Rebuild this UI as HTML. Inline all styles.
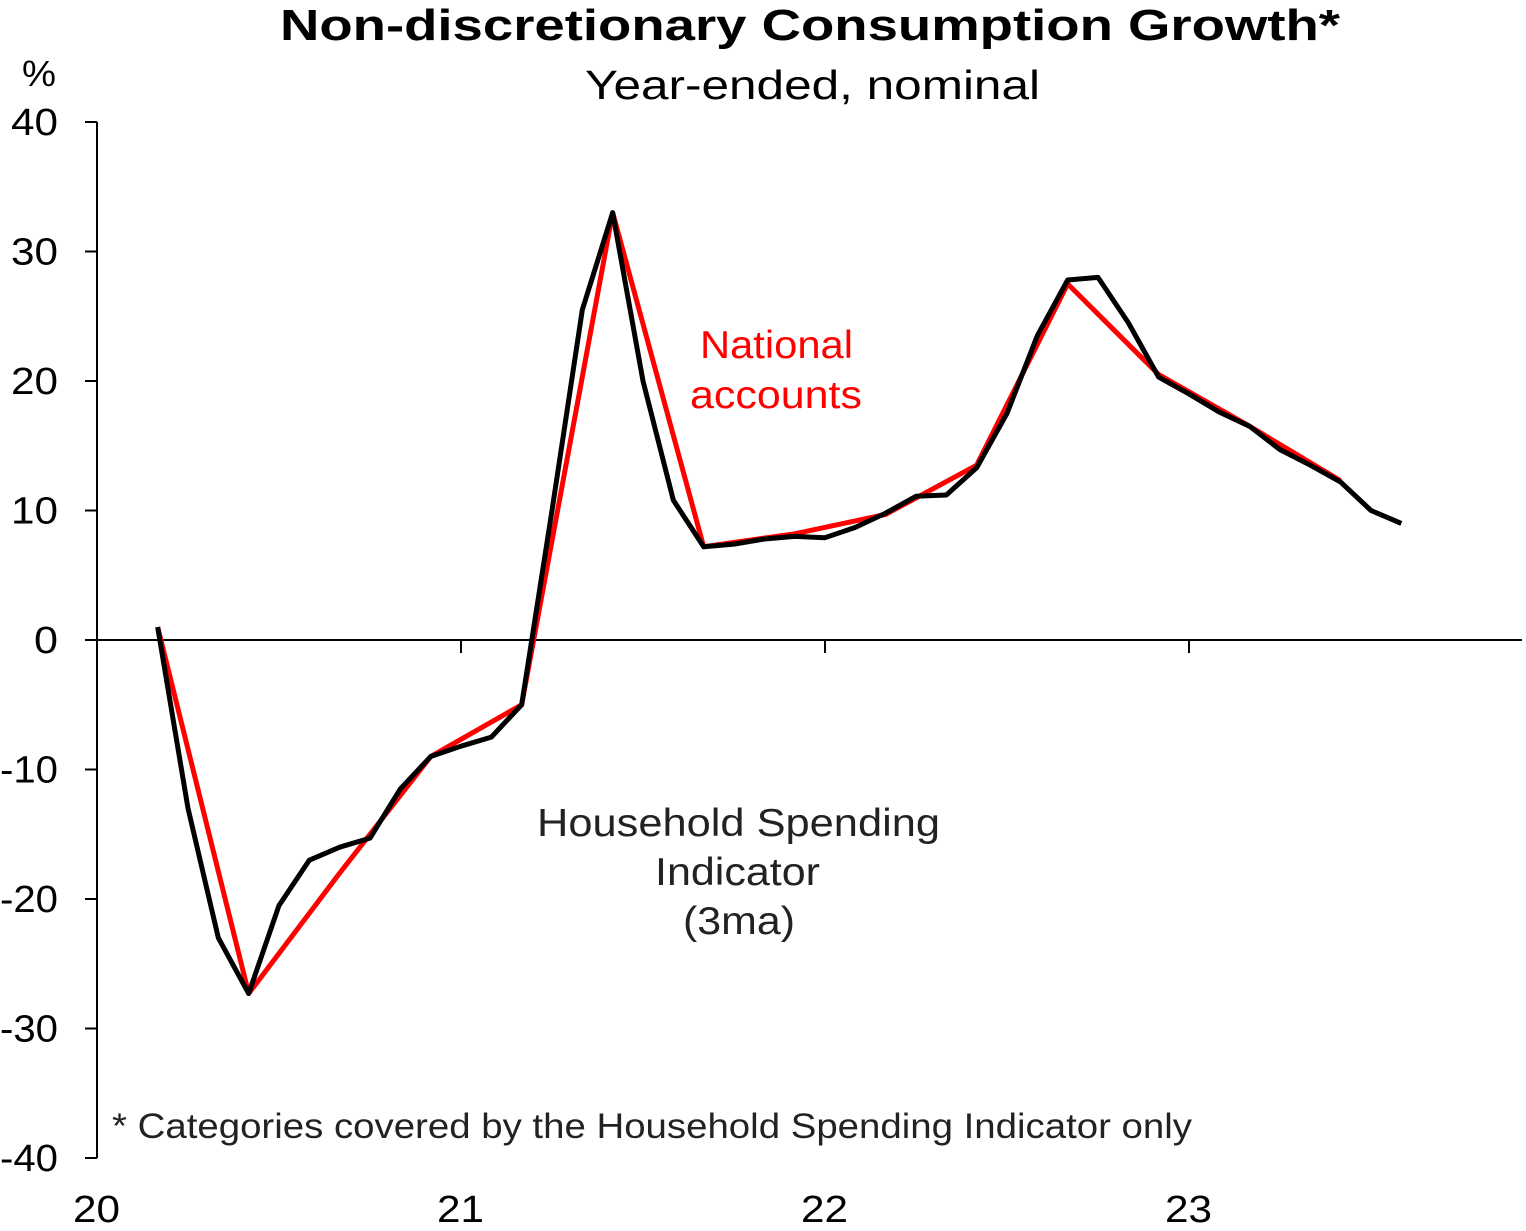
<!DOCTYPE html>
<html><head><meta charset="utf-8"><style>
body{margin:0;background:#fff;}
svg{display:block;font-family:"Liberation Sans",Arial,sans-serif;}
</style></head><body>
<svg width="1526" height="1231" viewBox="0 0 1526 1231">
<text x="280" y="40" font-size="44" font-weight="bold" textLength="1060" lengthAdjust="spacingAndGlyphs">Non-discretionary Consumption Growth*</text>
<text x="585" y="99" font-size="41" textLength="455" lengthAdjust="spacingAndGlyphs">Year-ended, nominal</text>
<text x="22" y="86" font-size="36" textLength="34" lengthAdjust="spacingAndGlyphs">%</text>
<g id="axes"></g>
<g id="series"></g>
<text x="700" y="358" font-size="39" fill="#ff0000" textLength="153" lengthAdjust="spacingAndGlyphs">National</text>
<text x="690" y="408" font-size="39" fill="#ff0000" textLength="172" lengthAdjust="spacingAndGlyphs">accounts</text>
<text x="537" y="836" font-size="39" fill="#222" textLength="403" lengthAdjust="spacingAndGlyphs">Household  Spending</text>
<text x="655" y="885" font-size="39" fill="#222" textLength="165" lengthAdjust="spacingAndGlyphs">Indicator</text>
<text x="683" y="934" font-size="39" fill="#222" textLength="112" lengthAdjust="spacingAndGlyphs">(3ma)</text>
<text x="112" y="1138" font-size="35" fill="#222" textLength="1080" lengthAdjust="spacingAndGlyphs">* Categories covered by the Household Spending Indicator only</text>
</svg>
<script>
const yTicks=[40,30,20,10,0,-10,-20,-30,-40];
const xYears=["20","21","22","23"];
const redMonths=[2,5,8,11,14,17,20,23,26,29,32,35,38,41];
const redValues=[1,-27.3,-18,-9,-5,33,7.2,8.2,9.7,13.5,27.5,20.5,16.5,12.3];
const blackValues=[1,-13,-23,-27.3,-20.5,-17,-16,-15.3,-11.5,-9,-8.2,-7.5,-5,10,25.5,33,20,10.8,7.2,7.4,7.8,8,7.9,8.7,9.8,11.1,11.2,13.3,17.5,23.5,27.8,28,24.5,20.3,19,17.6,16.5,14.7,13.5,12.2,10,9];
const blackStartMonth=2;
const NS="http://www.w3.org/2000/svg";
const X=m=>97+m*364/12;
const Y=v=>640-v*12.95;
const ax=document.getElementById('axes');
function mk(tag,attrs,parent){const e=document.createElementNS(NS,tag);for(const k in attrs)e.setAttribute(k,attrs[k]);parent.appendChild(e);return e;}
let l=mk('line',{x1:97,y1:Y(40),x2:97,y2:Y(-40),stroke:'#000','stroke-width':2},ax);


l=mk('line',{x1:97,y1:Y(0),x2:1522,y2:Y(0),stroke:'#000','stroke-width':2},ax);


yTicks.forEach(v=>{
 const t=mk('line',{x1:85,y1:Y(v),x2:97,y2:Y(v),stroke:'#000','stroke-width':2},ax);
 
 
 const s=String(v);
 const w=v<0?58:(s.length===1?24:47);
 const tx=mk('text',{x:58-w,y:Y(v)+13,'font-size':38,textLength:w,lengthAdjust:'spacingAndGlyphs'},ax);
 tx.textContent=s;
 
 
});
xYears.forEach((s,i)=>{
 const x=X(i*12);
 if(i>0){const t=mk('line',{x1:x,y1:Y(0),x2:x,y2:Y(0)+13,stroke:'#000','stroke-width':2},ax);
 
 }
 const tx=mk('text',{x:x-24,y:1222,'font-size':38,textLength:47,lengthAdjust:'spacingAndGlyphs'},ax);
 tx.textContent=s;
 
 
});
const sg=document.getElementById('series');
let p=mk('polyline',{points:redMonths.map((m,i)=>X(m)+','+Y(redValues[i])).join(' '),fill:'none',stroke:'#ff0000','stroke-width':5,'stroke-linejoin':'round'},sg);


p=mk('polyline',{points:blackValues.map((v,i)=>X(blackStartMonth+i)+','+Y(v)).join(' '),fill:'none',stroke:'#000','stroke-width':5,'stroke-linejoin':'round'},sg);


</script>
</body></html>
